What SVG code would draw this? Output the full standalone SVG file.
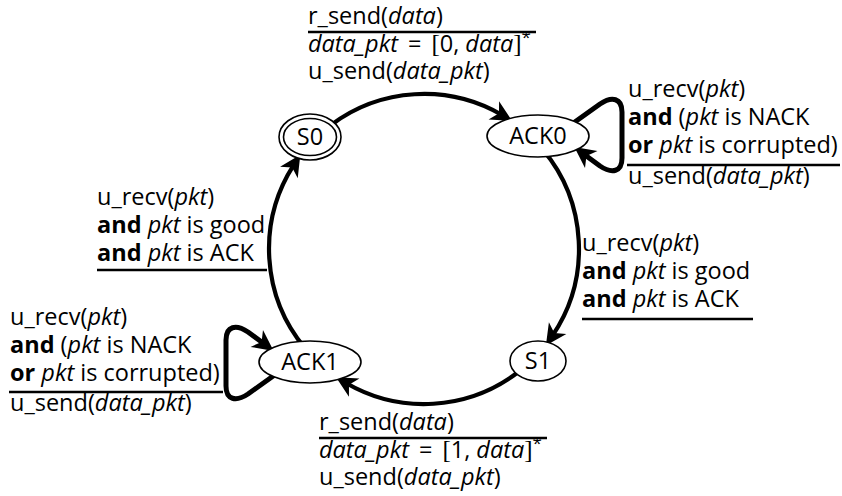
<svg xmlns="http://www.w3.org/2000/svg" width="842" height="496" viewBox="0 0 842 496">
<defs>
<style>
text{font-family:"Open Sans","Noto Sans","Liberation Sans",sans-serif;font-size:23.5px;fill:#000}
.i{font-style:italic}
.b{font-weight:bold}
.br{font-family:"Liberation Serif","DejaVu Serif",serif;font-size:25px}
.sup{font-size:17px}
.node{fill:#fff;stroke:#000;stroke-width:1.6}
.edge{fill:none;stroke:#000;stroke-width:4.2;marker-end:url(#arr)}
.loop{fill:none;stroke:#000;stroke-width:5;stroke-linejoin:round;marker-end:url(#arr)}
.rule{stroke:#000;stroke-width:2.6}
.lbl{text-anchor:middle}
</style>
<marker id="arr" markerUnits="userSpaceOnUse" markerWidth="30" markerHeight="30" refX="0" refY="0" viewBox="-10 -10 20 20" orient="auto">
<path d="M8,0 L-6,-7 L-2,0 L-6,7 Z" fill="#000"/>
</marker>
</defs>
<g id="connectors">
<path id="e-s0-ack0" class="edge" d="M330.7,125.2 A155,155 0 0 1 501.6,114.8"/>
<path id="e-ack0-s1" class="edge" d="M542.7,149.4 A155,155 0 0 1 552.6,335.5"/>
<path id="e-s1-ack1" class="edge" d="M517.3,372.8 A155,155 0 0 1 346.4,383.2"/>
<path id="e-ack1-s0" class="edge" d="M305.3,348.6 A155,155 0 0 1 293.8,164.9"/>
<path id="e-ack0-loop" class="loop" d="M572,124 L600,104 C612,96 622,98 622,112 L622,158 C622,172 612,174 600,166 L584,154.2"/>
<path id="e-ack1-loop" class="loop" d="M276,374 L248,394 C236,402 226,400 226,386 L226,340 C226,326 236,324 248,332 L264,343.8"/>
</g>
<g id="S0">
<ellipse class="node" cx="310" cy="137" rx="31" ry="23"/>
<ellipse class="node" cx="310" cy="137" rx="26.5" ry="18.5"/>
<text class="lbl" x="310" y="145">S0</text>
</g>
<g id="ACK0">
<ellipse class="node" cx="538" cy="136" rx="51" ry="21"/>
<text class="lbl" x="538" y="144">ACK0</text>
</g>
<g id="S1">
<ellipse class="node" cx="538" cy="361" rx="28" ry="20"/>
<text class="lbl" x="538" y="369">S1</text>
</g>
<g id="ACK1">
<ellipse class="node" cx="310" cy="362" rx="51" ry="21"/>
<text class="lbl" x="310" y="370">ACK1</text>
</g>
<g id="label-s0-ack0">
<text x="308" y="24">r_send(<tspan class="i">data</tspan>)</text>
<line class="rule" x1="308" y1="32" x2="536" y2="32"/>
<text x="308" y="52"><tspan class="i">data_pkt</tspan> &#8201;= &#8201;<tspan class="br">[</tspan>0, <tspan class="i">data</tspan><tspan class="br">]</tspan><tspan class="sup" dy="-9">*</tspan></text>
<text x="308" y="79">u_send(<tspan class="i">data_pkt</tspan>)</text>
</g>
<g id="label-ack0-loop">
<text x="628" y="97">u_recv(<tspan class="i">pkt</tspan>)</text>
<text x="628" y="125"><tspan class="b">and</tspan> (<tspan class="i">pkt</tspan> is NACK</text>
<text x="628" y="153"><tspan class="b">or</tspan> <tspan class="i">pkt</tspan> is corrupted)</text>
<line class="rule" x1="627" y1="165" x2="840" y2="165"/>
<text x="628" y="184">u_send(<tspan class="i">data_pkt</tspan>)</text>
</g>
<g id="label-ack0-s1">
<text x="582" y="251">u_recv(<tspan class="i">pkt</tspan>)</text>
<text x="582" y="279"><tspan class="b">and</tspan> <tspan class="i">pkt</tspan> is good</text>
<text x="582" y="307"><tspan class="b">and</tspan> <tspan class="i">pkt</tspan> is ACK</text>
<line class="rule" x1="582" y1="319" x2="753" y2="319"/>
</g>
<g id="label-s1-ack1">
<text x="319" y="430">r_send(<tspan class="i">data</tspan>)</text>
<line class="rule" x1="319" y1="438" x2="547" y2="438"/>
<text x="319" y="458"><tspan class="i">data_pkt</tspan> &#8201;= &#8201;<tspan class="br">[</tspan>1, <tspan class="i">data</tspan><tspan class="br">]</tspan><tspan class="sup" dy="-9">*</tspan></text>
<text x="319" y="485">u_send(<tspan class="i">data_pkt</tspan>)</text>
</g>
<g id="label-ack1-s0">
<text x="97" y="205">u_recv(<tspan class="i">pkt</tspan>)</text>
<text x="97" y="233"><tspan class="b">and</tspan> <tspan class="i">pkt</tspan> is good</text>
<text x="97" y="261"><tspan class="b">and</tspan> <tspan class="i">pkt</tspan> is ACK</text>
<line class="rule" x1="97" y1="270" x2="267" y2="270"/>
</g>
<g id="label-ack1-loop">
<text x="10" y="325">u_recv(<tspan class="i">pkt</tspan>)</text>
<text x="10" y="353"><tspan class="b">and</tspan> (<tspan class="i">pkt</tspan> is NACK</text>
<text x="10" y="381"><tspan class="b">or</tspan> <tspan class="i">pkt</tspan> is corrupted)</text>
<line class="rule" x1="9" y1="392" x2="223" y2="392"/>
<text x="10" y="411">u_send(<tspan class="i">data_pkt</tspan>)</text>
</g>
</svg>
